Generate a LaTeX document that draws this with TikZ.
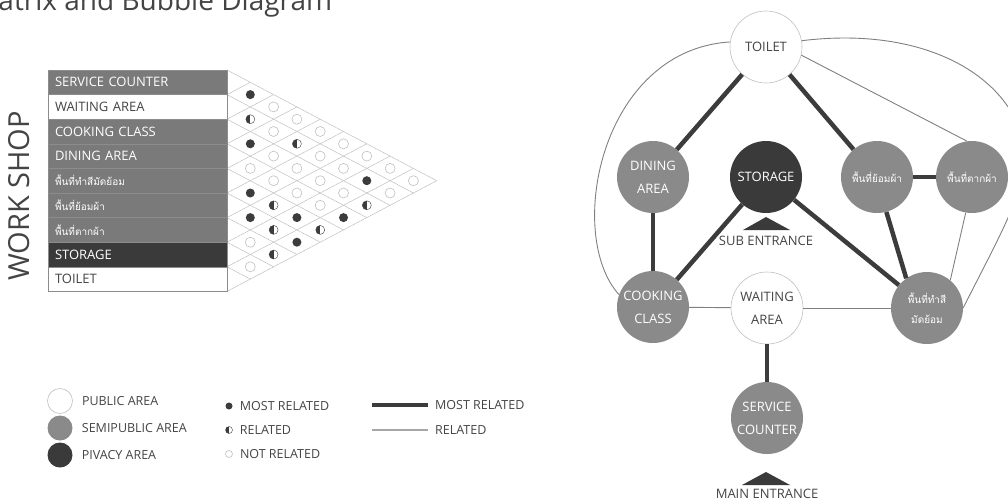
\documentclass[tikz,border=0pt]{standalone}
\usepackage{fontspec}
\setmainfont{Open Sans}
\newfontfamily\thaifont[Script=Thai]{Loma}
\usetikzlibrary{positioning}

\definecolor{semigray}{RGB}{138,138,138}
\definecolor{rowgray}{RGB}{122,122,122}
\definecolor{privdark}{RGB}{58,58,58}
\definecolor{linedark}{RGB}{60,60,60}
\definecolor{gridgray}{RGB}{192,192,192}
\definecolor{textgray}{RGB}{68,68,68}

\newcommand\thairow{\thaifont\fontsize{10}{12}\selectfont}
\newcommand\thaibub{\thaifont\fontsize{10}{20}\selectfont}

\tikzset{
  bubble/.style={circle, minimum size=72pt, inner sep=0pt, align=center,
    font=\fontsize{13}{23}\selectfont},
  public/.style={bubble, draw=gridgray, line width=0.6pt, fill=white, text=textgray},
  semipublic/.style={bubble, fill=semigray, text=white},
  privacy/.style={bubble, fill=privdark, text=white},
  mostrel/.style={draw=linedark, line width=4.5pt},
  rel/.style={draw=gray, line width=0.9pt},
  gridline/.style={draw=gridgray, line width=0.5pt},
  rowcell/.style={rectangle, minimum width=179pt, minimum height=24.6pt,
    text width=165pt, align=left, inner xsep=7pt, inner ysep=0pt,
    draw=black!45, line width=0.5pt, font=\fontsize{13}{15}\selectfont},
  mdot/.style={circle, fill=linedark, minimum size=9pt, inner sep=0pt},
  rdot/.style={circle, draw=linedark, line width=0.4pt, fill=white,
    minimum size=9pt, inner sep=0pt,
    path picture={\fill[linedark] (path picture bounding box.south west)
      rectangle (path picture bounding box.north);}},
  ndot/.style={circle, draw=gridgray, line width=0.6pt, minimum size=10pt, inner sep=0pt},
  legcircle/.style={circle, minimum size=25pt, inner sep=0pt},
  legtext/.style={inner sep=0pt, anchor=west, text=textgray, font=\fontsize{12.5}{15}\selectfont},
  entrance/.style={text=textgray, inner sep=0pt, font=\fontsize{13}{15}\selectfont}
}

\def\xo{227}
\def\yo{70}
\def\rh{24.6}
\def\cs{23.3}

\begin{document}
\begin{tikzpicture}[x=1pt, y=-1pt]
  \useasboundingbox (0,0) rectangle (1008,501);
  \clip (0,0) rectangle (1008,501);

  % title, cut by the top edge
  \node[anchor=base west, inner sep=0pt, text=textgray,
    font=\fontsize{28}{30}\selectfont] (title) at (-27,10) {Matrix and Bubble Diagram};
  \node[rotate=90, text=textgray, font=\fontsize{29}{32}\selectfont] (workshop) at (19,196) {WORK SHOP};

  % matrix grid
  \foreach \k in {0,...,8}
    \draw[gridline] (\xo,{\yo+\k*\rh}) -- ++({(9-\k)*\cs},{(9-\k)*\rh/2});
  \foreach \k in {1,...,9}
    \draw[gridline] (\xo,{\yo+\k*\rh}) -- ++({\k*\cs},{-\k*\rh/2});

  % rows
  \foreach \r/\fc/\tc/\lab in {
      1/rowgray/white/{SERVICE COUNTER},
      2/white/textgray/{WAITING AREA},
      3/rowgray/white/{COOKING CLASS},
      4/rowgray/white/{DINING AREA},
      5/rowgray/white/{\thairow พื้นที่ทำสีมัดย้อม},
      6/rowgray/white/{\thairow พื้นที่ย้อมผ้า},
      7/rowgray/white/{\thairow พื้นที่ตากผ้า},
      8/privdark/white/{STORAGE},
      9/white/textgray/{TOILET}}
    \node[rowcell, fill=\fc, text=\tc] (row\r) at (137.5,{\yo+(\r-0.5)*\rh}) {\lab};

  % relations
  \foreach \i/\j/\t in {
      1/2/mdot, 1/3/ndot, 1/4/ndot, 1/5/ndot, 1/6/ndot, 1/7/ndot, 1/8/ndot, 1/9/ndot,
      2/3/rdot, 2/4/ndot, 2/5/rdot, 2/6/ndot, 2/7/ndot, 2/8/mdot, 2/9/ndot,
      3/4/mdot, 3/5/ndot, 3/6/ndot, 3/7/ndot, 3/8/ndot, 3/9/rdot,
      4/5/ndot, 4/6/ndot, 4/7/ndot, 4/8/ndot, 4/9/mdot,
      5/6/mdot, 5/7/rdot, 5/8/mdot, 5/9/rdot,
      6/7/mdot, 6/8/rdot, 6/9/mdot,
      7/8/ndot, 7/9/rdot,
      8/9/ndot}
    \node[\t] (d\i\j) at ({\xo+(\j-\i)*\cs},{\yo+(\i+\j-1)*\rh/2}) {};

  % legend
  \node[legcircle, draw=gridgray, line width=0.6pt, fill=white] (legpub) at (60,401) {};
  \node[legcircle, fill=semigray] (legsemi) at (60,428) {};
  \node[legcircle, fill=privdark] (legpriv) at (60,455) {};
  \node[legtext, right=9pt of legpub] (legpubt) {PUBLIC AREA};
  \node[legtext, right=9pt of legsemi] (legsemit) {SEMIPUBLIC AREA};
  \node[legtext, right=9pt of legpriv] (legprivt) {PIVACY AREA};

  \node[mdot, minimum size=7pt] (legm) at (229,406) {};
  \node[rdot, minimum size=7pt] (legr) at (229,430) {};
  \node[ndot, minimum size=7pt] (legn) at (229,454) {};
  \node[legtext, right=7pt of legm] (legmt) {MOST RELATED};
  \node[legtext, right=7pt of legr] (legrt) {RELATED};
  \node[legtext, right=7pt of legn] (legnt) {NOT RELATED};

  \coordinate (lm1) at (372,405);
  \coordinate (lm2) at (428,405);
  \coordinate (lr1) at (372,430);
  \coordinate (lr2) at (428,430);
  \draw[mostrel, line width=4pt] (lm1) -- (lm2);
  \draw[draw=gray!70, line width=1.2pt] (lr1) -- (lr2);
  \node[legtext, right=7pt of lm2] (lmt) {MOST RELATED};
  \node[legtext, right=7pt of lr2] (lrt) {RELATED};

  % bubble diagram
  \node[public] (toilet) at (766,47) {TOILET};
  \node[semipublic] (dining) at (653,177) {DINING\\AREA};
  \node[privacy] (storage) at (766,177) {STORAGE};
  \node[semipublic, font=\thaibub] (dye) at (877,177) {พื้นที่ย้อมผ้า};
  \node[semipublic, font=\thaibub] (dry) at (972,177) {พื้นที่ตากผ้า};
  \node[semipublic] (cook) at (653,307) {COOKING\\CLASS};
  \node[public] (waiting) at (767,308) {WAITING\\AREA};
  \node[semipublic, font=\thaibub] (tiedye) at (927,308) {พื้นที่ทำสี\\มัดย้อม};
  \node[semipublic] (service) at (767,418) {SERVICE\\COUNTER};

  \draw[mostrel] (toilet) -- (dining);
  \draw[mostrel] (toilet) -- (dye);
  \draw[mostrel] (dye) -- (dry);
  \draw[mostrel] (dining) -- (cook);
  \draw[mostrel] (storage) -- (cook);
  \draw[mostrel] (storage) -- (tiedye);
  \draw[mostrel] (dye.-75) -- (tiedye.125);
  \draw[mostrel] (waiting) -- (service);

  \draw[rel] (cook) -- (waiting);
  \draw[rel] (waiting) -- (tiedye);
  \draw[rel] (toilet.-13) -- (dry.98);
  \draw[rel] (dry.-100) -- (tiedye.50);
  \draw[rel] (toilet.172) .. controls (600,50) and (565,235) .. (cook.160);
  \draw[rel] (toilet.10) .. controls (930,25) and (1015,80) .. (1025,150)
    .. controls (1030,185) and (994,246) .. (tiedye.east);

  % entrances
  \node[entrance] (subent) at (766,241) {SUB ENTRANCE};
  \fill[privdark] (743,230) -- (766,217) -- (790,230) -- cycle;
  \node[entrance] (mainent) at (767,494) {MAIN ENTRANCE};
  \fill[privdark] (742,485) -- (766,472) -- (790,485) -- cycle;
\end{tikzpicture}
\end{document}
